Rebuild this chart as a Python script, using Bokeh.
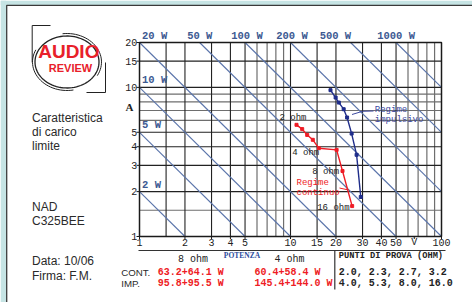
import math
import numpy as np
from bokeh.plotting import figure
from bokeh.models import Label, Range1d
from bokeh.core.properties import value
from bokeh.embed import file_html
from bokeh.resources import INLINE

# ---------------- data ----------------
volt_ticks = [1, 2, 3, 4, 5, 10, 15, 20, 30, 40, 50, 66, 100]
volt_tick_labels = ["1", "2", "3", "4", "5", "10", "15", "20", "30", "40", "50", "V", "100"]
amp_ticks = [1, 2, 3, 4, 5, 10, 15, 20]
amp_tick_labels = ["1", "2", "3", "4", "5", "10", "15", "20"]

grid_dark_v = [1.5, 2, 3, 4, 5, 10, 15, 20, 30, 40, 50]
grid_light_v = [6, 7, 8, 9, 60, 70, 80, 90]
grid_dark_i = [2, 3, 4, 5, 10, 15]
grid_light_i = [1.5, 6, 7, 8, 9]

power_watts = [2, 5, 10, 20, 50, 100, 200, 500, 1000]
power_labels = ["2 W", "5 W", "10 W", "20 W", "50 W", "100 W", "200 W", "500 W", "1000 W"]
power_label_v = [1.04, 1.04, 1.04, 1.04, 2.07, 4.05, 8.04, 15.6, 37.5]
power_label_i = [2, 5, 10, 20, 20, 20, 20, 20, 20]

# continuous regime (red), test loads 2.0 .. 16 ohm
cont_v = [10.96, 11.95, 12.9, 14.05, 15.4, 20.2, 22.1, 25.6]
cont_i = [5.61, 5.25, 4.8, 4.45, 3.91, 3.81, 2.75, 1.60]
# impulsive regime (blue)
imp_v = [18.4, 19.9, 20.9, 22.5, 23.7, 25.4, 27.4, 29.2]
imp_i = [9.58, 8.55, 7.91, 7.14, 6.28, 4.9, 3.53, 1.84]

table_cont = ["63.2+64.1 W", "60.4+58.4 W"]
table_imp = ["95.8+95.5 W", "145.4+144.0 W"]
test_points = ["2.0, 2.3, 2.7, 3.2", "4.0, 5.3, 8.0, 16.0"]

V_MIN, V_MAX, I_MIN, I_MAX = 1, 100, 1, 20

# ---------------- layout (pixels) ----------------
W, H = 472, 302
CL, CR, CT, CB = 139, 441, 42, 236          # chart box on the canvas
KX = (CR - CL) / math.log10(V_MAX / V_MIN)
KY = (CB - CT) / math.log10(I_MAX / I_MIN)

def dx(px):
    return V_MIN * 10 ** ((px - CL) / KX)

def dy(py):
    return I_MIN * 10 ** ((CB - py) / KY)

p = figure(width=W, height=H, x_axis_type="log", y_axis_type="log",
           x_range=Range1d(dx(0), dx(W)), y_range=Range1d(dy(H), dy(0)),
           output_backend="svg", toolbar_location=None,
           x_axis_location=None, y_axis_location=None, min_border=0)
p.xgrid.visible = False
p.ygrid.visible = False
p.outline_line_color = None
p.background_fill_color = "white"
p.border_fill_color = "white"

MONO = "Liberation Mono"
SANS = "Liberation Sans"
INK = "#1a1a1a"

# page frame (teal margin)
TEAL = "#c6e4e4"
p.quad(left=[dx(0), dx(0)], right=[dx(5.5), dx(W)], bottom=[dy(H), dy(4.5)],
       top=[dy(0), dy(0)], fill_color=TEAL, line_color=None)
p.line([dx(6.2), dx(6.2), dx(W)], [dy(H), dy(4.8), dy(4.8)], line_color="#3a3a3a", line_width=1.3)

# grid
def vgrid(vals, color, width):
    p.segment(x0=vals, x1=vals, y0=[I_MIN] * len(vals), y1=[I_MAX] * len(vals),
              line_color=color, line_width=width)

def hgrid(vals, color, width):
    p.segment(x0=[V_MIN] * len(vals), x1=[V_MAX] * len(vals), y0=vals, y1=vals,
              line_color=color, line_width=width)

vgrid(grid_light_v, "#6e6e6e", 1.2)
hgrid(grid_light_i, "#6e6e6e", 1.2)
vgrid(grid_dark_v, "#222222", 1.1)
hgrid(grid_dark_i, "#222222", 1.1)

# constant-power lines I = P / V
xs, ys = [], []
for P in power_watts:
    v0, v1 = max(V_MIN, P / I_MAX), min(V_MAX, P / I_MIN)
    xs.append([v0, v1])
    ys.append([P / v0, P / v1])
p.multi_line(xs, ys, line_color="#5a74aa", line_width=1.1)

# chart box
p.quad(left=V_MIN, right=V_MAX, bottom=I_MIN, top=I_MAX, fill_color=None,
       line_color=INK, line_width=1.5)

# ticks
p.segment(x0=volt_ticks, x1=volt_ticks, y0=[I_MIN] * len(volt_ticks),
          y1=[dy(CB + 2.5)] * len(volt_ticks), line_color=INK, line_width=1)
p.segment(x0=[V_MIN] * len(amp_ticks), x1=[dx(CL - 3)] * len(amp_ticks),
          y0=amp_ticks, y1=amp_ticks, line_color=INK, line_width=1)
p.text(x=volt_ticks, y=[dy(241.5)] * len(volt_ticks), text=volt_tick_labels,
       text_font=value(MONO), text_font_size=value("10px"), text_color="#222222",
       text_align="center", text_baseline="middle")
p.text(x=[dx(136.8)] * len(amp_ticks), y=amp_ticks, text=amp_tick_labels,
       text_font=value(MONO), text_font_size=value("10px"), text_color="#222222",
       text_align="right", text_baseline="middle")

# power labels
p.text(x=power_label_v, y=power_label_i, text=power_labels, y_offset=-1,
       text_font=value(MONO), text_font_style="bold", text_font_size=value("10.5px"),
       text_color="#3d5a92", text_baseline="bottom")

# curves
RED = "#ee1c25"
BLUE = "#1f2d8a"
p.line(cont_v, cont_i, line_color=RED, line_width=1.4)
p.scatter(cont_v, cont_i, size=3, marker="square", color=RED)
p.line(imp_v, imp_i, line_color=BLUE, line_width=1.4)
p.scatter(imp_v, imp_i, size=3, marker="square", color=BLUE)

# annotations
def lab(px, py, text, color="#222222", size="9px", font=MONO, style="normal",
        align="left", baseline="middle"):
    p.add_layout(Label(x=dx(px), y=dy(py), text=text, text_font=font,
                       text_font_size=size, text_color=color,
                       text_font_style=style, text_align=align,
                       text_baseline=baseline))

def poly(pts, color="#222222", width=1.0):
    p.line([dx(a) for a, b in pts], [dy(b) for a, b in pts], line_color=color,
           line_width=width)

lab(279, 117, "2 ohm")
lab(291.7, 152.7, "4 ohm")
lab(311.7, 171, "8 ohm")
lab(316.7, 207.3, "16 ohm")
lab(296, 182.7, "Regime", color=RED)
lab(296, 192.7, "continuo", color=RED)
lab(374.3, 109, "Regime", color="#3d4aa0")
lab(374.3, 119, "impulsivo", color="#3d4aa0")
poly([(339, 187.5), (348, 189.5)], color=RED)
poly([(373, 110.5), (362, 110.8), (351.5, 114)], color="#3d4aa0")

# axis letter A
lab(125, 106.5, "A", font="Liberation Serif", size="11px", style="bold")

# ---------------- left panel ----------------
TXT = "#2a2a2a"
lab(31.5, 117, "Caratteristica", color=TXT, size="12px", font=SANS)
lab(31.5, 131, "di carico", color=TXT, size="12px", font=SANS)
lab(31.5, 145, "limite", color=TXT, size="12px", font=SANS)
lab(31.5, 206, "NAD", color=TXT, size="12px", font=SANS)
lab(31.5, 220, "C325BEE", color=TXT, size="12px", font=SANS)
lab(31.5, 260.5, "Data: 10/06", color=TXT, size="12px", font=SANS)
lab(31.5, 275, "Firma: F.M.", color=TXT, size="12px", font=SANS)

# logo
cx, cy, rx, ry = 66.5, 61.5, 32.0, 26.0
t = np.linspace(0, 2 * np.pi, 90)
poly([(cx + rx * math.cos(a), cy - ry * math.sin(a)) for a in t], width=1.3)
for a0, a1 in ((-0.5, 1.7), (2.7, 4.9)):
    ta = np.linspace(a0, a1, 30)
    poly([(cx + (rx + 2.5) * math.cos(a), cy - (ry + 2.5) * math.sin(a)) for a in ta])
poly([(31.7, 62), (31.7, 25), (50, 25)])
poly([(105, 62), (105, 92), (86, 92)])
lab(68.3, 50.5, "AUDIO", color="#e8202a", size="19px",
    font=SANS, style="bold", align="center")
lab(70, 67.5, "REVIEW", color="#e8202a", size="11px",
    font=SANS, style="bold", align="center")

# ---------------- bottom table ----------------
poly([(138, 250), (445, 250)], color="#333333", width=1.2)
poly([(334.3, 250), (334.3, 289)], color="#333333", width=1.2)
lab(192.5, 258.5, "8 ohm", size="10px", align="center")
lab(289, 258.5, "4 ohm", size="10px", align="center")
lab(241.5, 255.3, "POTENZA", color="#2d4c9c", size="7.5px",
    font="Liberation Serif", style="bold", align="center")
lab(338.3, 255.5, "PUNTI DI PROVA (OHM)", size="8.7px", style="bold")
lab(120.7, 272, "CONT.", color=TXT, size="9.7px", font=SANS)
lab(120.7, 283.3, "IMP.", color=TXT, size="9.7px", font=SANS)
lab(157.3, 272, table_cont[0], color=RED, size="10px", style="bold")
lab(254, 272, table_cont[1], color=RED, size="10px", style="bold")
lab(157.3, 283.3, table_imp[0], color=RED, size="10px", style="bold")
lab(254, 283.3, table_imp[1], color=RED, size="10px", style="bold")
lab(338.3, 272, test_points[0], size="10px", style="bold")
lab(338.3, 283.3, test_points[1], size="10px", style="bold")

open("out.html", "w").write(file_html(p, INLINE))
